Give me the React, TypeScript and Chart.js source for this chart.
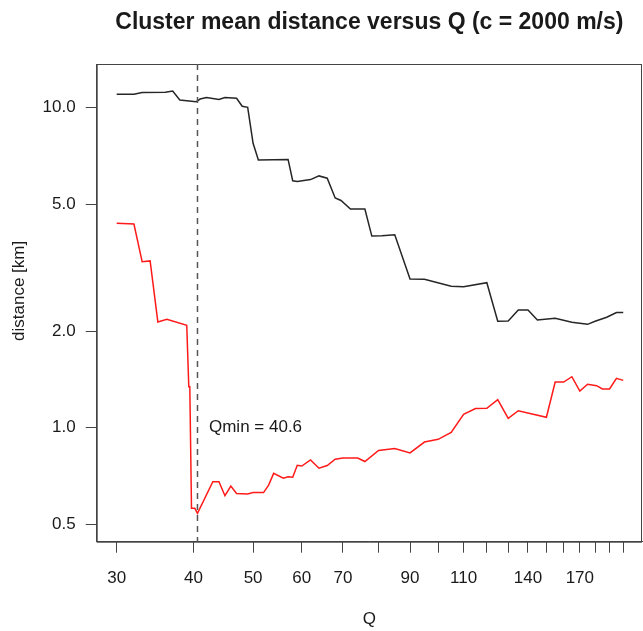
import React, { useEffect, useRef } from "react";
import { Chart, registerables } from "chart.js";

Chart.register(...registerables);

// ---- data ----
const chartTitle = "Cluster mean distance versus Q (c = 2000 m/s)";
const xAxisTitle = "Q";
const yAxisTitle = "distance [km]";

const qBlack = [30, 32, 33, 36, 37, 38, 39, 40.4, 41, 42, 44, 45, 47, 48, 49, 50, 51, 57, 58, 59, 62, 64, 66, 68, 69.5, 72, 76, 78, 81, 85, 90, 95, 105, 110, 120, 125, 130, 135, 140, 145, 155, 165, 175, 180, 188, 195, 200];
const dBlack = [11.01, 11.01, 11.15, 11.17, 11.27, 10.57, 10.51, 10.43, 10.64, 10.76, 10.6, 10.76, 10.7, 10.1, 10.02, 7.74, 6.86, 6.89, 5.91, 5.88, 5.96, 6.12, 6.02, 5.22, 5.13, 4.82, 4.82, 3.97, 3.98, 4.01, 2.915, 2.908, 2.766, 2.758, 2.838, 2.152, 2.155, 2.332, 2.332, 2.17, 2.197, 2.135, 2.104, 2.152, 2.213, 2.29, 2.29];

const qRed = [30, 32, 33, 34, 35, 36.2, 39, 39.3, 39.45, 39.7, 40.2, 40.6, 43, 44, 45, 46, 47, 49, 50, 52, 53, 54, 56, 57, 58, 59, 60, 62, 64, 66, 68, 70, 74, 76, 80, 85, 90, 95, 100, 105, 110, 115, 120, 125, 130, 135, 150, 155, 160, 165, 170, 175, 181, 185, 190, 195, 200];
const dRed = [4.35, 4.33, 3.3, 3.32, 2.14, 2.18, 2.09, 1.343, 1.343, 0.56, 0.56, 0.54, 0.678, 0.678, 0.613, 0.657, 0.623, 0.621, 0.627, 0.627, 0.662, 0.72, 0.695, 0.703, 0.7, 0.763, 0.759, 0.793, 0.747, 0.762, 0.797, 0.804, 0.804, 0.784, 0.849, 0.861, 0.834, 0.902, 0.92, 0.966, 1.101, 1.148, 1.15, 1.223, 1.07, 1.13, 1.078, 1.389, 1.389, 1.443, 1.302, 1.367, 1.353, 1.321, 1.321, 1.427, 1.406];

const qMin = 40.6;
const qMinLabel = "Qmin = 40.6";
const qMinLabelY = 1.0;

const xTickValues = [30, 40, 50, 60, 70, 80, 90, 100, 110, 120, 130, 140, 150, 160, 170, 180, 190, 200];
const xTickLabels = [30, 40, 50, 60, 70, 90, 110, 140, 170];
const yTickValues = [0.5, 1, 2, 5, 10];

const xRange = [27.835, 214.57];
const yRange = [0.4404, 13.69];

const FONT = "'Liberation Sans', Arial, Helvetica, sans-serif";
const TEXT = "#1a1a1a";
const AXIS = "#444";

const decorPlugin = {
  id: "decor",
  afterDraw(chart: any) {
    const { ctx, chartArea: ca, scales } = chart;
    const xs = scales.x;
    const ys = scales.y;
    ctx.save();
    // box
    ctx.strokeStyle = AXIS;
    ctx.lineWidth = 1;
    ctx.strokeRect(ca.left + 0.5, ca.top + 0.5, ca.right - ca.left - 1, ca.bottom - ca.top);
    // dashed Qmin line
    const xq = xs.getPixelForValue(qMin);
    ctx.setLineDash([6, 5]);
    ctx.strokeStyle = "#555";
    ctx.lineWidth = 1.5;
    ctx.beginPath();
    ctx.moveTo(xq, ca.top);
    ctx.lineTo(xq, ca.bottom);
    ctx.stroke();
    ctx.setLineDash([]);
    // Qmin label
    ctx.fillStyle = TEXT;
    ctx.font = `17px ${FONT}`;
    ctx.textAlign = "left";
    ctx.textBaseline = "middle";
    ctx.fillText(qMinLabel, xq + 11.5, ys.getPixelForValue(qMinLabelY));
    // title
    ctx.font = `bold 23px ${FONT}`;
    ctx.textAlign = "center";
    ctx.fillText(chartTitle, (ca.left + ca.right) / 2, 23);
    // y axis title
    ctx.font = `17px ${FONT}`;
    ctx.translate(19, (ca.top + ca.bottom) / 2 - 12);
    ctx.rotate(-Math.PI / 2);
    ctx.fillText(yAxisTitle, 0, 0);
    ctx.restore();
  },
};

export default function App() {
  const ref = useRef<HTMLCanvasElement | null>(null);

  useEffect(() => {
    if (!ref.current) return;
    const chart = new Chart(ref.current, {
      type: "line",
      data: {
        datasets: [
          {
            data: qBlack.map((q, i) => ({ x: q, y: dBlack[i] })),
            borderColor: "#262626",
            borderWidth: 1.5,
            pointRadius: 0,
            tension: 0,
          },
          {
            data: qRed.map((q, i) => ({ x: q, y: dRed[i] })),
            borderColor: "#ff1a1a",
            borderWidth: 1.5,
            pointRadius: 0,
            tension: 0,
          },
        ],
      },
      options: {
        animation: false,
        responsive: false,
        maintainAspectRatio: false,
        devicePixelRatio: 1,
        layout: { padding: { top: 64, right: 1, left: 0, bottom: 0 } },
        plugins: {
          legend: { display: false },
          title: { display: false },
          tooltip: { enabled: false },
        },
        scales: {
          x: {
            type: "logarithmic",
            min: xRange[0],
            max: xRange[1],
            afterBuildTicks: (s: any) => {
              s.ticks = xTickValues.map((v) => ({ value: v }));
            },
            afterFit: (s: any) => {
              s.height = 89.3;
            },
            ticks: {
              autoSkip: false,
              maxRotation: 0,
              minRotation: 0,
              padding: 15,
              color: TEXT,
              font: { family: FONT, size: 17 },
              callback: (v: any) => (xTickLabels.includes(Number(v)) ? String(v) : ""),
            },
            grid: { display: true, drawOnChartArea: false, drawTicks: true, tickLength: 11, color: AXIS, lineWidth: 1 },
            border: { display: true, color: AXIS, width: 1 },
            title: {
              display: true,
              text: xAxisTitle,
              color: TEXT,
              font: { family: FONT, size: 17 },
              padding: { top: 0, bottom: 1 },
            },
          },
          y: {
            type: "logarithmic",
            min: yRange[0],
            max: yRange[1],
            afterBuildTicks: (s: any) => {
              s.ticks = yTickValues.map((v) => ({ value: v }));
            },
            afterFit: (s: any) => {
              s.width = 96.7;
            },
            ticks: {
              autoSkip: false,
              padding: 10,
              color: TEXT,
              font: { family: FONT, size: 17 },
              callback: (v: any) => Number(v).toFixed(1),
            },
            grid: { display: true, drawOnChartArea: false, drawTicks: true, tickLength: 11, color: AXIS, lineWidth: 1 },
            border: { display: true, color: AXIS, width: 1 },
          },
        },
      },
      plugins: [decorPlugin],
    });
    return () => chart.destroy();
  }, []);

  return (
    <div style={{ position: "absolute", left: 0, top: 0, width: 643, height: 631, background: "#fff" }}>
      <canvas ref={ref} width={643} height={631} style={{ display: "block" }} />
    </div>
  );
}
